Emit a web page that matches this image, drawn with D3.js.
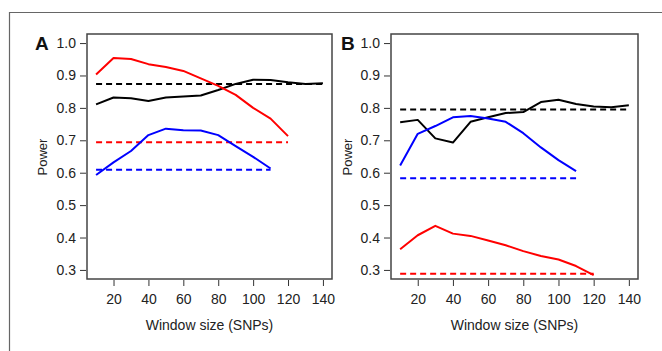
<!DOCTYPE html>
<html>
<head>
<meta charset="utf-8">
<script src="https://cdn.jsdelivr.net/npm/d3@7"></script>
<style>
  body { margin: 0; background: #fff; }
  svg { display: block; font-family: "Liberation Sans", Arial, sans-serif; }
</style>
</head>
<body>
<div id="chart"></div>
<script>
// window sizes (SNPs)
const windows = [10, 20, 30, 40, 50, 60, 70, 80, 90, 100, 110, 120, 130, 140];
const xTicks = [20, 40, 60, 80, 100, 120, 140];
const yTicks = [0.3, 0.4, 0.5, 0.6, 0.7, 0.8, 0.9, 1.0];

// panel A
const blackA = [0.811, 0.832, 0.830, 0.821, 0.832, 0.835, 0.838, 0.855, 0.874, 0.887, 0.886, 0.879, 0.874, 0.876];
const redA = [0.903, 0.954, 0.951, 0.935, 0.926, 0.914, 0.891, 0.868, 0.840, 0.800, 0.767, 0.713];
const blueA = [0.593, 0.632, 0.667, 0.716, 0.736, 0.731, 0.730, 0.716, 0.682, 0.649, 0.613];
const baseA = { black: 0.874, red: 0.694, blue: 0.609 };

// panel B
const blackB = [0.756, 0.763, 0.706, 0.693, 0.757, 0.771, 0.784, 0.787, 0.818, 0.825, 0.812, 0.804, 0.802, 0.808];
const redB = [0.364, 0.407, 0.436, 0.412, 0.405, 0.391, 0.376, 0.358, 0.343, 0.332, 0.312, 0.284];
const blueB = [0.622, 0.720, 0.744, 0.771, 0.775, 0.767, 0.757, 0.722, 0.678, 0.639, 0.605];
const baseB = { black: 0.795, red: 0.288, blue: 0.583 };

const svg = d3.select("#chart").append("svg")
    .attr("width", 662)
    .attr("height", 351);

// outer frame (open on right and bottom)
svg.append("path")
    .attr("d", "M9.5,351 V12.5 H662")
    .attr("fill", "none")
    .attr("stroke", "#666")
    .attr("stroke-width", 1.2);

const drawPanel = function(cfg) {
    const x = d3.scaleLinear().domain([4.8, 145.2]).range([cfg.left, cfg.right]);
    const y = d3.scaleLinear().domain([0.272, 1.028]).range([279, 34]);

    const g = svg.append("g");

    // axes
    g.append("g")
        .attr("transform", "translate(" + (cfg.left - 1) + ",0)")
        .call(d3.axisLeft(y).tickValues(yTicks).tickFormat(d3.format(".1f")).tickSize(6).tickSizeOuter(0))
        .call(a => a.select(".domain").remove())
        .call(a => a.selectAll("line").attr("stroke", "#333"))
        .call(a => a.selectAll("text").attr("fill", "#222").style("font-size", "14px").attr("dx", "-1"));

    g.append("g")
        .attr("transform", "translate(0,280)")
        .call(d3.axisBottom(x).tickValues(xTicks).tickSize(6).tickSizeOuter(0))
        .call(a => a.select(".domain").remove())
        .call(a => a.selectAll("line").attr("stroke", "#333"))
        .call(a => a.selectAll("text").attr("fill", "#222").style("font-size", "14px").attr("dy", "1.1em"));

    const line = d3.line()
        .x((d, i) => x(windows[i]))
        .y(d => y(d));

    const series = [
        { vals: cfg.black, base: cfg.base.black, color: "#000" },
        { vals: cfg.red, base: cfg.base.red, color: "#ff0000" },
        { vals: cfg.blue, base: cfg.base.blue, color: "#0000ff" }
    ];

    series.forEach(s => {
        const last = windows[s.vals.length - 1];
        g.append("line")
            .attr("x1", x(windows[0]))
            .attr("x2", x(last))
            .attr("y1", y(s.base))
            .attr("y2", y(s.base))
            .attr("stroke", s.color)
            .attr("stroke-width", 2)
            .attr("stroke-dasharray", "6,4");
    });

    series.forEach(s => {
        g.append("path")
            .datum(s.vals)
            .attr("d", line)
            .attr("fill", "none")
            .attr("stroke", s.color)
            .attr("stroke-width", 2)
            .attr("stroke-linejoin", "round");
    });

    // box
    g.append("rect")
        .attr("x", cfg.left)
        .attr("y", 34)
        .attr("width", cfg.right - cfg.left)
        .attr("height", 245)
        .attr("fill", "none")
        .attr("stroke", "#444")
        .attr("stroke-width", 1.5);

    g.append("text")
        .attr("x", cfg.letterX)
        .attr("y", 50)
        .style("font-size", "19px")
        .style("font-weight", "bold")
        .attr("fill", "#111")
        .text(cfg.letter);

    g.append("text")
        .attr("transform", "translate(" + cfg.ylabX + ",157) rotate(-90)")
        .attr("text-anchor", "middle")
        .style("font-size", "13px")
        .attr("fill", "#222")
        .text("Power");

    g.append("text")
        .attr("x", (cfg.left + cfg.right) / 2)
        .attr("y", 330)
        .attr("text-anchor", "middle")
        .style("font-size", "14px")
        .attr("fill", "#222")
        .text("Window size (SNPs)");
};

drawPanel({ left: 87, right: 332, letter: "A", letterX: 35, ylabX: 47,
    black: blackA, red: redA, blue: blueA, base: baseA });
drawPanel({ left: 391, right: 638, letter: "B", letterX: 341, ylabX: 352,
    black: blackB, red: redB, blue: blueB, base: baseB });
</script>
</body>
</html>
